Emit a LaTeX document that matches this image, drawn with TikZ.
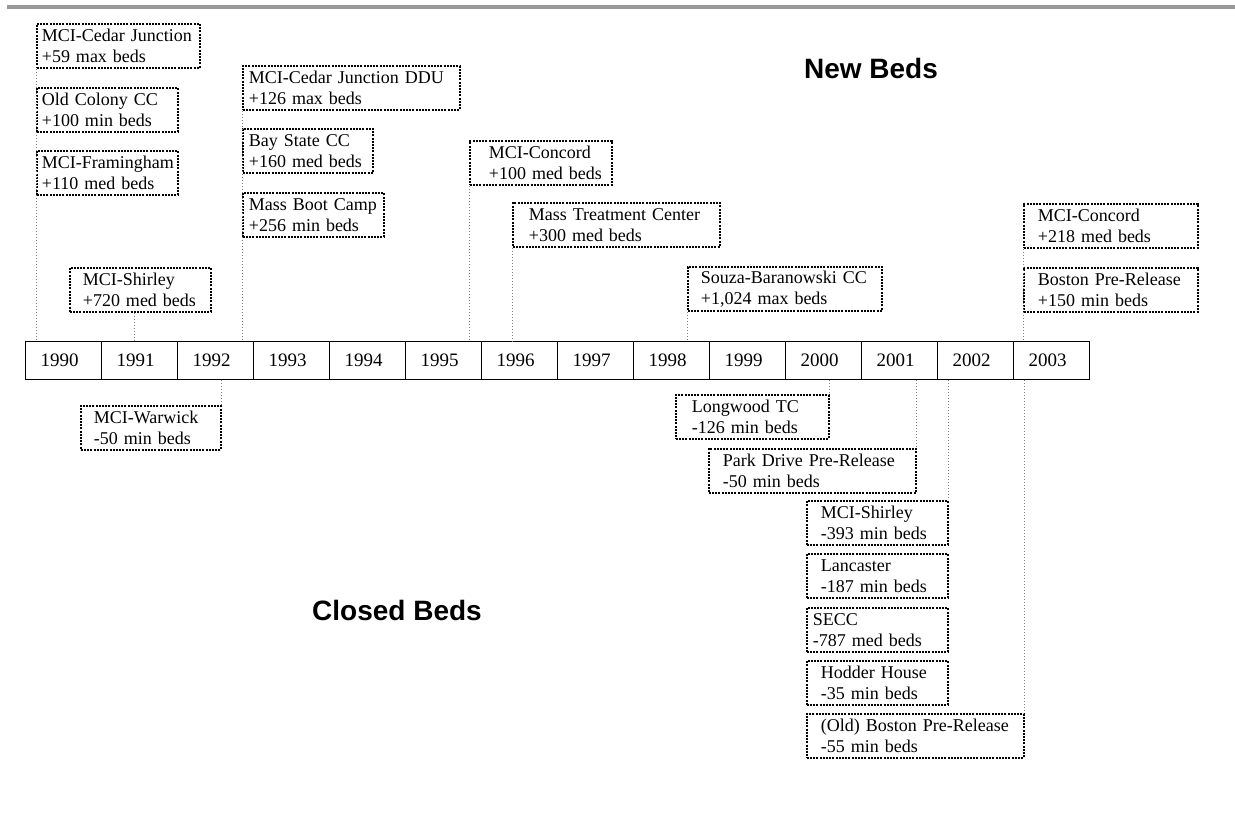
\documentclass[tikz,border=0pt]{standalone}
\usepackage{fontspec}
\setmainfont{Liberation Serif}
\newfontfamily\headfont{Liberation Sans}
\usepackage{tikz}

\begin{document}
\begin{tikzpicture}[x=0.5pt, y=-0.5pt,
    bedbox/.style 2 args={draw, dash pattern=on 1pt off 0.6pt, line width=0.85pt, anchor=north west,
        align=left, text width=#1, inner xsep=0pt, inner ysep=0pt, minimum height=22pt,
        execute at begin node={\leftskip=#2\relax}, font=\fontsize{9}{10.5}\selectfont},
    yearcell/.style={draw, line width=0.6pt, anchor=north west, align=left,
        text width=38pt, inner xsep=0pt, inner ysep=0pt, minimum height=19pt,
        execute at begin node={\leftskip=7.5pt\relax}, font=\fontsize{9.5}{11}\selectfont},
    conn/.style={gray, densely dotted, line width=0.5pt},
    headlbl/.style={anchor=base, font=\headfont\bfseries\fontsize{14}{16}\selectfont}]
    \useasboundingbox (0,0) rectangle (1235,827);

    % Top rule
    \fill[black!40] (7,5) rectangle (1235,9);

    % Timeline
    \node[yearcell] (y1990) at (25,341) {1990};
    \node[yearcell] (y1991) at (101,341) {1991};
    \node[yearcell] (y1992) at (177,341) {1992};
    \node[yearcell] (y1993) at (253,341) {1993};
    \node[yearcell] (y1994) at (329,341) {1994};
    \node[yearcell] (y1995) at (405,341) {1995};
    \node[yearcell] (y1996) at (481,341) {1996};
    \node[yearcell] (y1997) at (557,341) {1997};
    \node[yearcell] (y1998) at (633,341) {1998};
    \node[yearcell] (y1999) at (709,341) {1999};
    \node[yearcell] (y2000) at (785,341) {2000};
    \node[yearcell] (y2001) at (861,341) {2001};
    \node[yearcell] (y2002) at (937,341) {2002};
    \node[yearcell] (y2003) at (1013,341) {2003};

    % New beds (above)
    \node[bedbox={81.5pt}{2.5pt}] (cedarJ) at (36,23) {MCI-Cedar Junction\\+59 max beds};
    \node[bedbox={70.5pt}{2.5pt}] (oldColony) at (36,87) {Old Colony CC\\+100 min beds};
    \node[bedbox={70.5pt}{2.5pt}] (framingham) at (36,150) {MCI-Framingham\\+110 med beds};
    \node[bedbox={70.5pt}{6.5pt}] (shirleyUp) at (69,267) {MCI-Shirley\\+720 med beds};
    \node[bedbox={108.5pt}{3pt}] (cedarDDU) at (242,65) {MCI-Cedar Junction DDU\\+126 max beds};
    \node[bedbox={65pt}{3pt}] (bayState) at (242,128) {Bay State CC\\+160 med beds};
    \node[bedbox={70.5pt}{3pt}] (bootCamp) at (242,192) {Mass Boot Camp\\+256 min beds};
    \node[bedbox={71pt}{9.5pt}] (concordA) at (469,140) {MCI-Concord\\+100 med beds};
    \node[bedbox={103.5pt}{8pt}] (treatment) at (512,202) {Mass Treatment Center\\+300 med beds};
    \node[bedbox={97pt}{6.5pt}] (souza) at (687,266) {Souza-Baranowski CC\\+1,024 max beds};
    \node[bedbox={87pt}{7pt}] (concordB) at (1023,203) {MCI-Concord\\+218 med beds};
    \node[bedbox={87pt}{7pt}] (bostonPR) at (1023,267) {Boston Pre-Release\\+150 min beds};

    % Closed beds (below)
    \node[bedbox={70pt}{6.5pt}] (warwick) at (80,405) {MCI-Warwick\\-50 min beds};
    \node[bedbox={76.5pt}{8pt}] (longwood) at (675,394) {Longwood TC\\-126 min beds};
    \node[bedbox={103.5pt}{7pt}] (parkDrive) at (708,448) {Park Drive Pre-Release\\-50 min beds};
    \node[bedbox={70.5pt}{7pt}] (shirleyDn) at (806,500) {MCI-Shirley\\-393 min beds};
    \node[bedbox={70.5pt}{7pt}] (lancaster) at (806,553) {Lancaster\\-187 min beds};
    \node[bedbox={70.5pt}{3pt}] (secc) at (806,607) {SECC\\-787 med beds};
    \node[bedbox={70.5pt}{7pt}] (hodder) at (806,660) {Hodder House\\-35 min beds};
    \node[bedbox={108.5pt}{7pt}] (oldBoston) at (806,713) {(Old) Boston Pre-Release\\-55 min beds};

    % Connectors to the years
    \coordinate (shirleyFoot) at ([xshift=-3pt]shirleyUp.south);
    \draw[conn] (cedarJ.south west) -- (cedarJ.south west |- y1990.north);
    \draw[conn] (shirleyFoot) -- (shirleyFoot |- y1991.north);
    \draw[conn] (cedarDDU.south west) -- (cedarDDU.south west |- y1992.north);
    \draw[conn] (concordA.south west) -- (concordA.south west |- y1995.north);
    \draw[conn] (treatment.south west) -- (treatment.south west |- y1996.north);
    \draw[conn] (souza.south west) -- (souza.south west |- y1998.north);
    \draw[conn] (concordB.south west) -- (concordB.south west |- y2003.north);
    \draw[conn] (y1992.south -| warwick.north east) -- (warwick.north east);
    \draw[conn] (y2000.south -| longwood.north east) -- (longwood.north east);
    \draw[conn] (y2001.south -| parkDrive.north east) -- (parkDrive.north east);
    \draw[conn] (y2002.south -| shirleyDn.north east) -- (shirleyDn.north east);
    \draw[conn] (y2003.south -| oldBoston.north east) -- (oldBoston.north east);

    % Headings
    \node[headlbl] (newBeds) at (871,78) {New Beds};
    \node[headlbl] (closedBeds) at (397,620) {Closed Beds};
\end{tikzpicture}
\end{document}
